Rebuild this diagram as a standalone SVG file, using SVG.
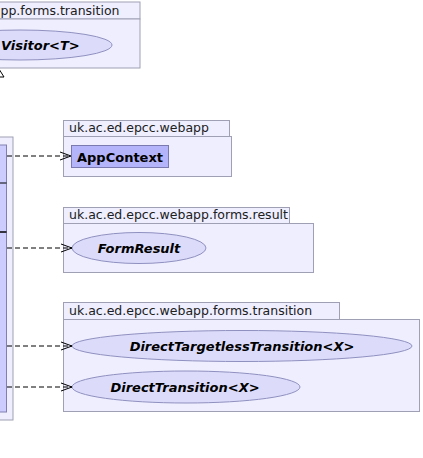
<svg xmlns="http://www.w3.org/2000/svg" width="423" height="458" viewBox="0 0 423 458">
<defs>
<style>
.pkg{fill:#eeeeff;stroke:#a0a0b4;stroke-width:1}
.cls{fill:#b4b4fa;stroke:#7a7ab0;stroke-width:1}
.ell{fill:#dcdcfa;stroke:#9090c0;stroke-width:1}
.plabel{font-family:"DejaVu Sans",sans-serif;font-size:12.5px;fill:#202020}
.clabel{font-family:"DejaVu Sans",sans-serif;font-size:13px;font-weight:bold;fill:#000}
.ilabel{font-family:"DejaVu Sans",sans-serif;font-size:13px;font-weight:bold;font-style:italic;fill:#000}
.dep{fill:none;stroke:#000;stroke-width:1;stroke-dasharray:5,3}
</style>
<marker id="open" viewBox="0 0 12 10" refX="11" refY="5" markerWidth="12" markerHeight="10" markerUnits="userSpaceOnUse" orient="auto">
<path d="M0,1 L11,5 L0,9" fill="none" stroke="#000" stroke-width="1"/>
</marker>
</defs>
<rect width="423" height="458" fill="#ffffff"/>

<g id="pkg-transition-top">
<rect class="pkg" x="-2" y="2" width="142" height="17"/>
<rect class="pkg" x="-2" y="19" width="142" height="49"/>
<text class="plabel" x="0.5" y="15">pp.forms.transition</text>
<g id="node-visitor">
<ellipse class="ell" cx="20" cy="45" rx="92" ry="15"/>
<text class="ilabel" x="1" y="50">Visitor&lt;T&gt;</text>
</g>
</g>

<g id="node-source">
<rect class="pkg" x="-2" y="137" width="15" height="283"/>
<rect x="-2" y="145" width="8.5" height="267" fill="#ccccff" stroke="#8080b0" stroke-width="1"/>
<line x1="0" y1="183" x2="6.5" y2="183" stroke="#000" stroke-width="1"/>
<line x1="0" y1="232" x2="6.5" y2="232" stroke="#000" stroke-width="1.5"/>
</g>

<g id="pkg-webapp">
<rect class="pkg" x="63.5" y="120.5" width="166" height="16"/>
<rect class="pkg" x="63.5" y="136.5" width="168" height="40"/>
<text class="plabel" x="69" y="132">uk.ac.ed.epcc.webapp</text>
<g id="node-appcontext">
<rect class="cls" x="71.5" y="145.5" width="97" height="22"/>
<text class="clabel" x="77" y="162">AppContext</text>
</g>
</g>

<g id="pkg-result">
<rect class="pkg" x="63.5" y="207.5" width="226" height="16"/>
<rect class="pkg" x="63.5" y="223.5" width="250" height="49"/>
<text class="plabel" x="69" y="219">uk.ac.ed.epcc.webapp.forms.result</text>
<g id="node-formresult">
<ellipse class="ell" cx="139" cy="248" rx="67" ry="15.5"/>
<text class="ilabel" x="139" y="253" text-anchor="middle">FormResult</text>
</g>
</g>

<g id="pkg-transition">
<rect class="pkg" x="63.5" y="302.5" width="276" height="17"/>
<rect class="pkg" x="63.5" y="319.5" width="356" height="92"/>
<text class="plabel" x="69" y="315">uk.ac.ed.epcc.webapp.forms.transition</text>
<g id="node-dtt">
<ellipse class="ell" cx="242" cy="346" rx="170" ry="15.5"/>
<text class="ilabel" x="242" y="351" text-anchor="middle">DirectTargetlessTransition&lt;X&gt;</text>
</g>
<g id="node-dt">
<ellipse class="ell" cx="186" cy="387" rx="114" ry="16"/>
<text class="ilabel" x="185" y="392" text-anchor="middle">DirectTransition&lt;X&gt;</text>
</g>
</g>

<g id="connectors">
<polygon points="-1,69 -6,77 4,77" fill="#fff" stroke="#000" stroke-width="1"/>
<line class="dep" x1="7" y1="156" x2="71" y2="156" marker-end="url(#open)"/>
<line class="dep" x1="7" y1="248" x2="72" y2="248" marker-end="url(#open)"/>
<line class="dep" x1="7" y1="346" x2="72" y2="346" marker-end="url(#open)"/>
<line class="dep" x1="7" y1="387" x2="72" y2="387" marker-end="url(#open)"/>
</g>
</svg>
